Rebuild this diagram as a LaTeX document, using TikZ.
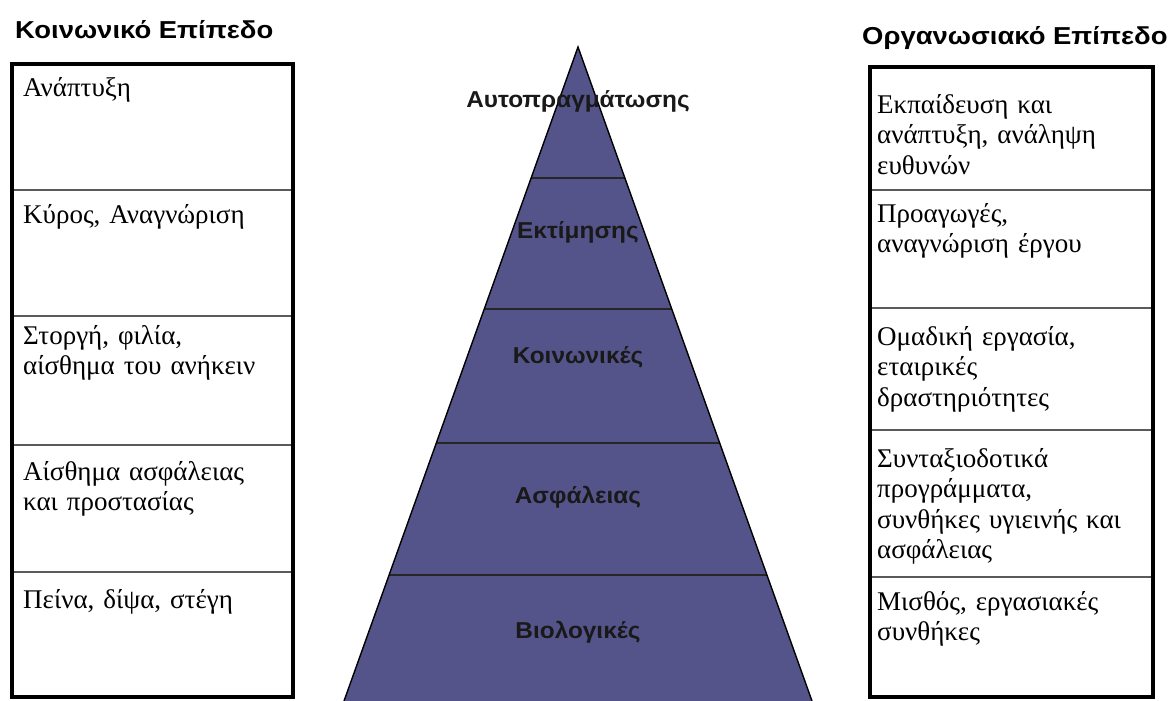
\documentclass[tikz,border=0pt]{standalone}
\usepackage{fontspec}
\setmainfont{Liberation Serif}
\newfontfamily\hdfont[FakeStretch=1.12]{Liberation Sans}
\newfontfamily\pyfont[FakeStretch=1.06]{Liberation Sans}
\definecolor{pyrfill}{RGB}{84,84,138}
\definecolor{divline}{RGB}{90,90,90}
\tikzset{
  header/.style={font=\hdfont\bfseries\fontsize{24.5}{28}\selectfont, inner sep=0pt, anchor=base west},
  pyrlabel/.style={font=\pyfont\bfseries\fontsize{23}{27}\selectfont, inner sep=0pt, anchor=base, text=black!90},
  celltext/.style={font=\fontsize{27}{30.5}\selectfont, inner sep=0pt, anchor=north west, align=left, text width=275pt, execute at begin node=\strut},
  outerbox/.style={draw=black, line width=4pt},
  divider/.style={draw=divline, line width=1.6pt},
  pyrline/.style={draw=black!85, line width=1.6pt}
}
\begin{document}
\begin{tikzpicture}[x=1pt,y=-1pt]
\useasboundingbox (0,0) rectangle (1172,701);
\fill[white] (0,0) rectangle (1172,701);
\begin{scope}
\clip (0,0) rectangle (1172,701);
% pyramid
\coordinate (apex) at (578,47);
\coordinate (bl) at (344,701);
\coordinate (br) at (812,701);
\fill[pyrfill] (apex) -- (br) -- (bl) -- cycle;
\draw[pyrline] (578-46.9,178) -- (578+46.9,178);
\draw[pyrline] (578-93.7,309) -- (578+93.7,309);
\draw[pyrline] (578-141.7,443) -- (578+141.7,443);
\draw[pyrline] (578-188.9,575) -- (578+188.9,575);
\draw[line width=1.4pt, line join=miter] (bl) -- (apex) -- (br);
\end{scope}

\node[pyrlabel] (p1) at (578,107) {Αυτοπραγμάτωσης};
\node[pyrlabel] (p2) at (578,238) {Εκτίμησης};
\node[pyrlabel] (p3) at (578,363) {Κοινωνικές};
\node[pyrlabel] (p4) at (578,503) {Ασφάλειας};
\node[pyrlabel] (p5) at (578,638) {Βιολογικές};

% headers
\node[header] (hl) at (15,38) {Κοινωνικό Επίπεδο};
\node[header] (hr) at (862,45) {Οργανωσιακό Επίπεδο};

% left box
\draw[divider] (10,190) -- (294,190);
\draw[divider] (10,316) -- (294,316);
\draw[divider] (10,445) -- (294,445);
\draw[divider] (10,572) -- (294,572);
\draw[outerbox] (12,64) rectangle (293,697);

\node[celltext] (l1) at (23,96-21.35) {Ανάπτυξη};
\node[celltext] (l2) at (23,223-21.35) {Κύρος, Αναγνώριση};
\node[celltext] (l3) at (23,344-21.35) {Στοργή, φιλία,\\αίσθημα του ανήκειν};
\node[celltext] (l4) at (23,480-21.35) {Αίσθημα ασφάλειας\\και προστασίας};
\node[celltext] (l5) at (23,608-21.35) {Πείνα, δίψα, στέγη};

% right box
\draw[divider] (868,190) -- (1155,190);
\draw[divider] (868,308) -- (1155,308);
\draw[divider] (868,430) -- (1155,430);
\draw[divider] (868,577) -- (1155,577);
\draw[outerbox] (870,67) rectangle (1153,697);

\node[celltext] (r1) at (877,113-21.35) {Εκπαίδευση και\\ανάπτυξη, ανάληψη\\ευθυνών};
\node[celltext] (r2) at (877,222-21.35) {Προαγωγές,\\αναγνώριση έργου};
\node[celltext] (r3) at (877,345-21.35) {Ομαδική εργασία,\\εταιρικές\\δραστηριότητες};
\node[celltext] (r4) at (877,467-21.35) {Συνταξιοδοτικά\\προγράμματα,\\συνθήκες υγιεινής και\\ασφάλειας};
\node[celltext] (r5) at (877,610-21.35) {Μισθός, εργασιακές\\συνθήκες};
\end{tikzpicture}
\end{document}
